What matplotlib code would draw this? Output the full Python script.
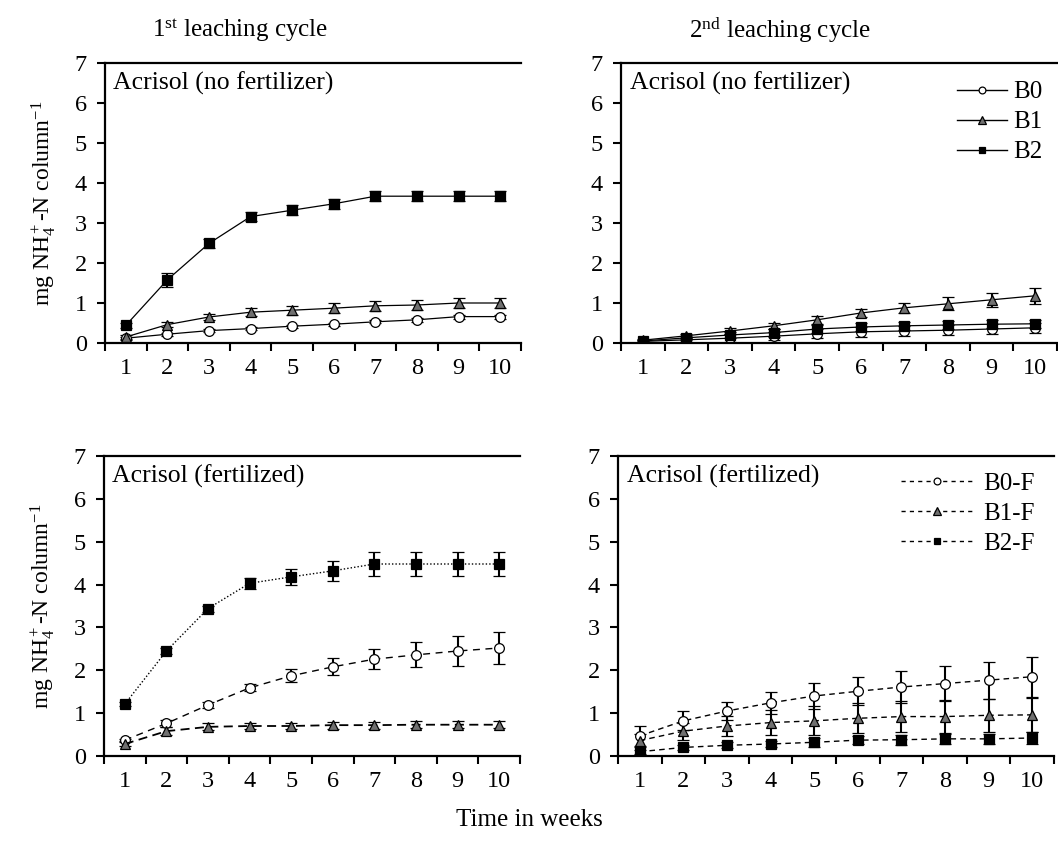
import matplotlib
matplotlib.use("Agg")
import matplotlib.pyplot as plt
from matplotlib.lines import Line2D
import numpy as np

plt.rcParams["font.family"] = ["Liberation Serif", "DejaVu Serif"]
plt.rcParams["mathtext.fontset"] = "custom"
plt.rcParams["mathtext.rm"] = "Liberation Serif"
plt.rcParams["mathtext.it"] = "Liberation Serif:italic"

weeks = np.arange(1, 11)

# 1st leaching cycle, no fertilizer
b0_1 = [0.12, 0.22, 0.31, 0.36, 0.42, 0.47, 0.53, 0.58, 0.66, 0.66]
b0_1_err = [0.04, 0.04, 0.04, 0.04, 0.04, 0.04, 0.04, 0.05, 0.05, 0.05]
b1_1 = [0.15, 0.46, 0.65, 0.77, 0.82, 0.87, 0.93, 0.95, 1.0, 1.0]
b1_1_err = [0.05, 0.06, 0.07, 0.1, 0.11, 0.12, 0.12, 0.12, 0.13, 0.13]
b2_1 = [0.44, 1.58, 2.49, 3.16, 3.32, 3.48, 3.67, 3.67, 3.67, 3.67]
b2_1_err = [0.07, 0.17, 0.11, 0.12, 0.12, 0.12, 0.13, 0.12, 0.12, 0.12]

# 2nd leaching cycle, no fertilizer
b0_2 = [0.04, 0.08, 0.12, 0.17, 0.23, 0.28, 0.3, 0.32, 0.35, 0.38]
b0_2_err = [0.03, 0.05, 0.1, 0.1, 0.11, 0.12, 0.12, 0.12, 0.12, 0.12]
b1_2 = [0.07, 0.18, 0.3, 0.43, 0.58, 0.75, 0.88, 0.98, 1.08, 1.18]
b1_2_err = [0.03, 0.05, 0.08, 0.08, 0.1, 0.1, 0.12, 0.16, 0.18, 0.2]
b2_2 = [0.05, 0.13, 0.2, 0.26, 0.35, 0.4, 0.43, 0.45, 0.47, 0.48]
b2_2_err = [0.03, 0.05, 0.08, 0.1, 0.1, 0.1, 0.1, 0.1, 0.1, 0.1]

# 1st leaching cycle, fertilized
b0f_1 = [0.37, 0.76, 1.19, 1.59, 1.87, 2.08, 2.26, 2.36, 2.45, 2.52]
b0f_1_err = [0.03, 0.08, 0.08, 0.08, 0.15, 0.2, 0.24, 0.29, 0.34, 0.37]
b1f_1 = [0.28, 0.58, 0.68, 0.7, 0.7, 0.72, 0.72, 0.73, 0.73, 0.73]
b1f_1_err = [0.05, 0.1, 0.08, 0.08, 0.08, 0.08, 0.08, 0.08, 0.08, 0.08]
b2f_1 = [1.21, 2.45, 3.44, 4.03, 4.18, 4.32, 4.48, 4.48, 4.48, 4.48]
b2f_1_err = [0.05, 0.07, 0.07, 0.13, 0.19, 0.23, 0.29, 0.29, 0.29, 0.29]

# 2nd leaching cycle, fertilized
b0f_2 = [0.47, 0.82, 1.05, 1.24, 1.4, 1.51, 1.61, 1.69, 1.77, 1.85]
b0f_2_err = [0.24, 0.22, 0.2, 0.26, 0.3, 0.33, 0.37, 0.4, 0.43, 0.47]
b1f_2 = [0.36, 0.58, 0.7, 0.78, 0.82, 0.88, 0.92, 0.92, 0.95, 0.96]
b1f_2_err = [0.15, 0.2, 0.23, 0.29, 0.34, 0.35, 0.37, 0.38, 0.38, 0.4]
b2f_2 = [0.1, 0.2, 0.25, 0.28, 0.32, 0.37, 0.38, 0.4, 0.4, 0.42]
b2f_2_err = [0.05, 0.06, 0.07, 0.08, 0.1, 0.1, 0.12, 0.12, 0.12, 0.13]

W, H = 1058, 855
fig = plt.figure(figsize=(W / 100, H / 100), dpi=100)


def px_axes(left, top, right, bottom):
    return fig.add_axes([left / W, 1 - bottom / H, (right - left) / W, (bottom - top) / H])


ax_tl = px_axes(105, 63, 521, 343)
ax_tr = px_axes(621, 63, 1057, 343)
ax_bl = px_axes(104, 456, 520, 756)
ax_br = px_axes(618, 456, 1054, 756)

styles = {
    "B0": dict(marker="o", mfc="white", mec="black", ms=7),
    "B1": dict(marker="^", mfc="#707070", mec="black", ms=7.5),
    "B2": dict(marker="s", mfc="black", mec="black", ms=7),
}


def draw(ax, y, err, key, ls, lw, dashes=None):
    line, caps, bars = ax.errorbar(weeks, y, yerr=err, color="black", ls=ls, lw=lw,
                                   elinewidth=1.5, capsize=4.3, capthick=1.5,
                                   mew=0.9, **styles[key])
    if dashes is not None:
        line.set_dashes(dashes)


draw(ax_tl, b0_1, b0_1_err, "B0", "-", 0.9)
draw(ax_tl, b1_1, b1_1_err, "B1", "-", 0.9)
draw(ax_tl, b2_1, b2_1_err, "B2", "-", 0.9)

draw(ax_tr, b0_2, b0_2_err, "B0", "-", 0.9)
draw(ax_tr, b1_2, b1_2_err, "B1", "-", 0.9)
draw(ax_tr, b2_2, b2_2_err, "B2", "-", 0.9)

draw(ax_bl, b0f_1, b0f_1_err, "B0", "--", 1.0, (5, 4))
draw(ax_bl, b1f_1, b1f_1_err, "B1", "--", 1.3, (5, 3))
draw(ax_bl, b2f_1, b2f_1_err, "B2", ":", 1.0, (1, 1.5))

draw(ax_br, b0f_2, b0f_2_err, "B0", "--", 1.0, (4, 3))
draw(ax_br, b1f_2, b1f_2_err, "B1", "--", 1.0, (4, 3))
draw(ax_br, b2f_2, b2f_2_err, "B2", "--", 1.0, (4, 3))

panel_text = {ax_tl: "Acrisol (no fertilizer)", ax_tr: "Acrisol (no fertilizer)",
              ax_bl: "Acrisol (fertilized)", ax_br: "Acrisol (fertilized)"}

for ax in [ax_tl, ax_tr, ax_bl, ax_br]:
    ax.set_xlim(0.5, 10.5)
    ax.set_ylim(0, 7)
    ax.set_yticks(range(0, 8))
    ax.set_xticks(weeks)
    ax.set_xticks(np.arange(0.5, 11, 1), minor=True)
    ax.tick_params(axis="x", which="major", length=0, labelsize=17.5, pad=11)
    ax.tick_params(axis="x", which="minor", length=6, width=1.5, direction="out")
    ax.tick_params(axis="y", length=6, width=1.5, direction="out", labelsize=17.5, pad=7)
    for s in ["left", "bottom", "top"]:
        ax.spines[s].set_linewidth(1.6)
    ax.spines["right"].set_visible(False)
    ax.text(0.02, 0.97, panel_text[ax], transform=ax.transAxes, ha="left", va="top", fontsize=18.5)


def handles(ls, dashes):
    out = []
    for key in ["B0", "B1", "B2"]:
        st = dict(styles[key])
        st["ms"] = st["ms"] * 0.7
        h = Line2D([], [], color="black", ls=ls, lw=1.0, mew=0.9, **st)
        if dashes is not None:
            h.set_dashes(dashes)
        out.append(h)
    return out


ax_tr.legend(handles("-", None), ["B0", "B1", "B2"], loc="upper right", frameon=False,
             fontsize=18, handlelength=2.0, handletextpad=0.25, labelspacing=0.3,
             bbox_to_anchor=(1.0, 0.99), borderaxespad=0.2)
ax_br.legend(handles("--", (3, 3)), ["B0-F", "B1-F", "B2-F"], loc="upper right", frameon=False,
             fontsize=18, handlelength=2.9, handletextpad=0.4, labelspacing=0.3,
             bbox_to_anchor=(0.99, 0.995), borderaxespad=0.2)

ylab = r"mg NH$_4^+$-N column$^{-1}$"
ax_tl.set_ylabel(ylab, fontsize=17, labelpad=12)
ax_bl.set_ylabel(ylab, fontsize=17, labelpad=12)

fig.text(240 / W, 1 - 30 / H, r"1$^{\rm st}$ leaching cycle", ha="center", va="center", fontsize=18)
fig.text(780 / W, 1 - 30 / H, r"2$^{\rm nd}$ leaching cycle", ha="center", va="center", fontsize=18)
fig.text(529 / W, 1 - 820 / H, "Time in weeks", ha="center", va="center", fontsize=18)

fig.savefig("out.png", dpi=100)
